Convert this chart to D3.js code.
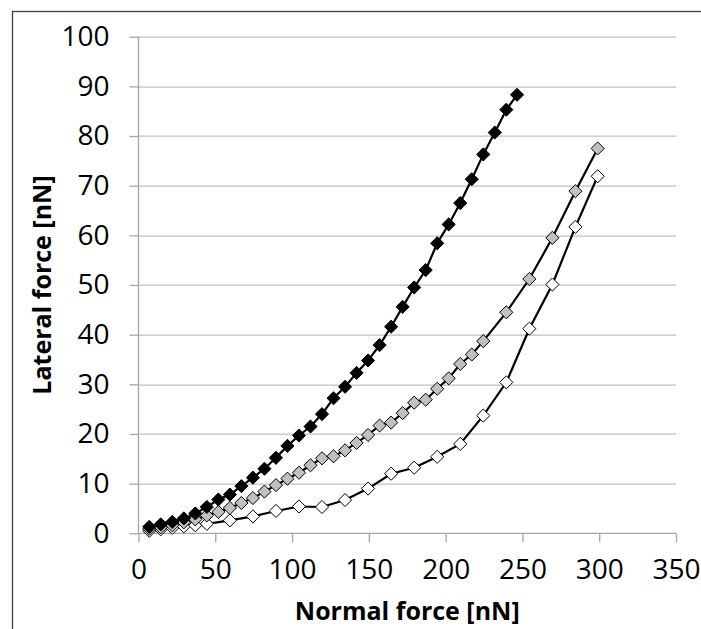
<!DOCTYPE html>
<html>
<head>
<meta charset="utf-8">
<script src="https://cdn.jsdelivr.net/npm/d3@7"></script>
<style>
  body { margin: 0; background: #fff; }
  svg text { font-family: "Open Sans", "Noto Sans", sans-serif; fill: #000; }
</style>
</head>
<body>
<div id="chart"></div>
<script>
// black series (dense sampling)
var blackX = [7, 14.5, 22, 29.5, 37, 44.5, 52, 59.5, 67, 74.5, 82, 89.5, 97, 104.5, 112, 119.5, 127,
  134.5, 142, 149.5, 157, 164.5, 172, 179.5, 187, 194.5, 202, 209.5, 217, 224.5, 232, 239.5, 246.5];
var blackY = [1.3, 1.8, 2.3, 3.0, 4.0, 5.3, 6.8, 7.8, 9.5, 11.2, 13.0, 15.2, 17.6, 19.7, 21.5, 24.0, 27.2,
  29.5, 32.3, 34.8, 37.9, 41.6, 45.6, 49.5, 53.0, 58.4, 62.2, 66.5, 71.3, 76.3, 80.7, 85.3, 88.3];

// grey series
var greyX = [7, 14.5, 22, 29.5, 37, 44.5, 52, 59.5, 67, 74.5, 82, 89.5, 97, 104.5, 112, 119.5, 127,
  134.5, 142, 149.5, 157, 164.5, 172, 179.5, 187, 194.5, 202, 209.5, 217, 224.5, 239.5, 254.5, 269.5, 284.5, 299];
var greyY = [0.9, 1.2, 1.6, 2.2, 2.8, 3.6, 4.3, 5.1, 6.1, 7.1, 8.4, 9.7, 11.0, 12.2, 13.7, 15.1, 15.5,
  16.7, 18.2, 19.8, 21.7, 22.3, 24.2, 26.3, 26.9, 29.1, 31.2, 34.1, 36.0, 38.7, 44.5, 51.2, 59.5, 68.9, 77.5];

// white series
var whiteX = [7, 14.5, 22, 29.5, 37, 44.5, 59.5, 74.5, 89.5, 104.5, 119.5, 134.5, 149.5, 164.5, 179.5,
  194.5, 209.5, 224.5, 239.5, 254.5, 269.5, 284.5, 299];
var whiteY = [0.5, 0.8, 1.1, 1.4, 1.6, 1.9, 2.6, 3.4, 4.5, 5.4, 5.3, 6.7, 9.0, 12.0, 13.2,
  15.4, 18.0, 23.7, 30.4, 41.2, 50.1, 61.7, 71.9];

var xTicks = [0, 50, 100, 150, 200, 250, 300, 350];
var yTicks = [0, 10, 20, 30, 40, 50, 60, 70, 80, 90, 100];

var series = [
  { name: 'white', xs: whiteX, ys: whiteY, fill: '#ffffff' },
  { name: 'grey', xs: greyX, ys: greyY, fill: '#c0c0c0' },
  { name: 'black', xs: blackX, ys: blackY, fill: '#000000' }
];

var W = 701, H = 629;
var margin = { top: 36.7, right: 25, bottom: 95.7, left: 138.5 };
var width = 676 - margin.left,
    height = 533.3 - margin.top;

var svg = d3.select('#chart').append('svg')
  .attr('width', W)
  .attr('height', H);

// chart border (runs off right and bottom)
svg.append('rect')
  .attr('x', 12.5).attr('y', 11.5)
  .attr('width', W + 20).attr('height', H + 20)
  .attr('fill', 'none')
  .attr('stroke', '#404040')
  .attr('stroke-width', 1.3);

var g = svg.append('g')
  .attr('transform', 'translate(' + margin.left + ',' + margin.top + ')');

var x = d3.scaleLinear().domain([0, 350]).range([0, width]);
var y = d3.scaleLinear().domain([0, 100]).range([height, 0]);

// gridlines
g.append('g').attr('class', 'grid')
  .selectAll('line')
  .data(yTicks.filter(function(d) { return d > 0; }))
  .enter().append('line')
  .attr('x1', 0).attr('x2', width)
  .attr('y1', function(d) { return Math.round(y(d)) + 0.5; })
  .attr('y2', function(d) { return Math.round(y(d)) + 0.5; })
  .attr('stroke', '#bfbfbf')
  .attr('stroke-width', 1.3);

// axes
var xAxis = d3.axisBottom(x).tickValues(xTicks).tickSize(9).tickPadding(17).tickFormat(d3.format('d'));
var yAxis = d3.axisLeft(y).tickValues(yTicks).tickSize(9).tickPadding(20).tickFormat(d3.format('d'));

var gx = g.append('g')
  .attr('transform', 'translate(0,' + height + ')')
  .call(xAxis);
var gy = g.append('g').call(yAxis);

[gx, gy].forEach(function(a) {
  a.select('.domain').attr('stroke', '#a6a6a6').attr('stroke-width', 1.3);
  a.selectAll('.tick line').attr('stroke', '#a6a6a6').attr('stroke-width', 1.3);
  a.selectAll('.tick text')
    .style('font-family', '"Open Sans", sans-serif')
    .style('font-size', '28px')
    .attr('fill', '#000');
});
gy.select('.domain').attr('d', 'M0,' + height + 'V0');
gx.select('.domain').attr('d', 'M0,0H' + width);

// lines and markers
var line = d3.line()
  .x(function(d) { return x(d[0]); })
  .y(function(d) { return y(d[1]); });

var diamond = d3.symbol().type(d3.symbolDiamond2).size(110);

series.forEach(function(s) {
  var pts = s.xs.map(function(v, i) { return [v, s.ys[i]]; });
  g.append('path')
    .datum(pts)
    .attr('d', line)
    .attr('fill', 'none')
    .attr('stroke', '#000')
    .attr('stroke-width', 2.2);
  g.append('g')
    .selectAll('path')
    .data(pts)
    .enter().append('path')
    .attr('transform', function(d) { return 'translate(' + x(d[0]) + ',' + y(d[1]) + ')'; })
    .attr('d', diamond)
    .attr('fill', s.fill)
    .attr('stroke', '#000')
    .attr('stroke-width', 1);
});

// axis titles
svg.append('text')
  .attr('x', margin.left + width / 2)
  .attr('y', 620)
  .attr('text-anchor', 'middle')
  .style('font-size', '25px')
  .style('font-weight', 'bold')
  .text('Normal force [nN]');

svg.append('text')
  .attr('transform', 'translate(51,' + (margin.top + height / 2) + ') rotate(-90)')
  .attr('text-anchor', 'middle')
  .style('font-size', '25px')
  .style('font-weight', 'bold')
  .text('Lateral force [nN]');
</script>
</body>
</html>
